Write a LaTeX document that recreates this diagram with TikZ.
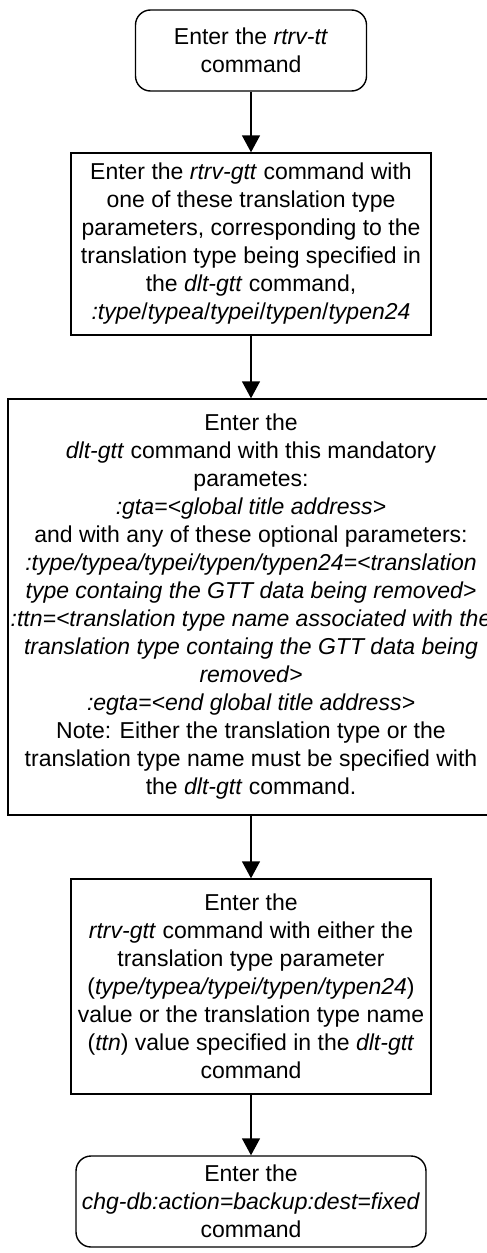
\documentclass[tikz,border=0pt]{standalone}
\usepackage{fontspec}
\setmainfont{Liberation Sans}
\usetikzlibrary{arrows.meta}
\begin{document}
\begin{tikzpicture}[x=1pt,y=1pt,
  box/.style={draw=black, line width=1.4pt, fill=white, align=center, inner sep=0pt,
    font=\fontsize{23pt}{28pt}\selectfont},
  roundbox/.style={box, rounded corners=15pt},
  arr/.style={line width=1.4pt, -{Triangle[width=18pt,length=17pt]}}]
\clip (0,0) rectangle (487,-1253);
\fill[white] (0,0) rectangle (487,-1253);
\node[roundbox, minimum width=231pt, minimum height=81pt] (b1) at (251,-50.5)
  {Enter the \textit{rtrv-tt}\\command};
\node[box, minimum width=360pt, minimum height=182pt] (b2) at (251,-244)
  {Enter the \textit{rtrv-gtt} command with\\one of these translation type\\parameters, corresponding to the\\translation type being specified in\\the \textit{dlt-gtt} command,\\\textit{:type}/\textit{typea}/\textit{typei}/\textit{typen}/\textit{typen24}};
\node[box, minimum width=486pt, minimum height=416pt] (b3) at (251,-607)
  {Enter the\\\textit{dlt-gtt} command with this mandatory\\parametes:\\\textit{:gta=<global title address>}\\and with any of these optional parameters:\\\textit{:type/typea/typei/typen/typen24=<translation}\\\textit{type containg the GTT data being removed>}\\\textit{:ttn=<translation type name associated with the}\\\textit{translation type containg the GTT data being}\\\textit{removed>}\\\textit{:egta=<end global title address>}\\Note: Either the translation type or the\\translation type name must be specified with\\the \textit{dlt-gtt} command.};
\node[box, minimum width=360pt, minimum height=215pt] (b4) at (251,-986.5)
  {Enter the\\\textit{rtrv-gtt} command with either the\\translation type parameter\\(\textit{type/typea/typei/typen/typen24})\\value or the translation type name\\(\textit{ttn}) value specified in the \textit{dlt-gtt}\\command};
\node[roundbox, minimum width=350pt, minimum height=91pt] (b5) at (251,-1201.5)
  {Enter the\\\textit{chg-db:action=backup:dest=fixed}\\command};
\draw[arr] (b1) -- (b2);
\draw[arr] (b2) -- (b3);
\draw[arr] (b3) -- (b4);
\draw[arr] (b4) -- (b5);
\end{tikzpicture}
\end{document}
